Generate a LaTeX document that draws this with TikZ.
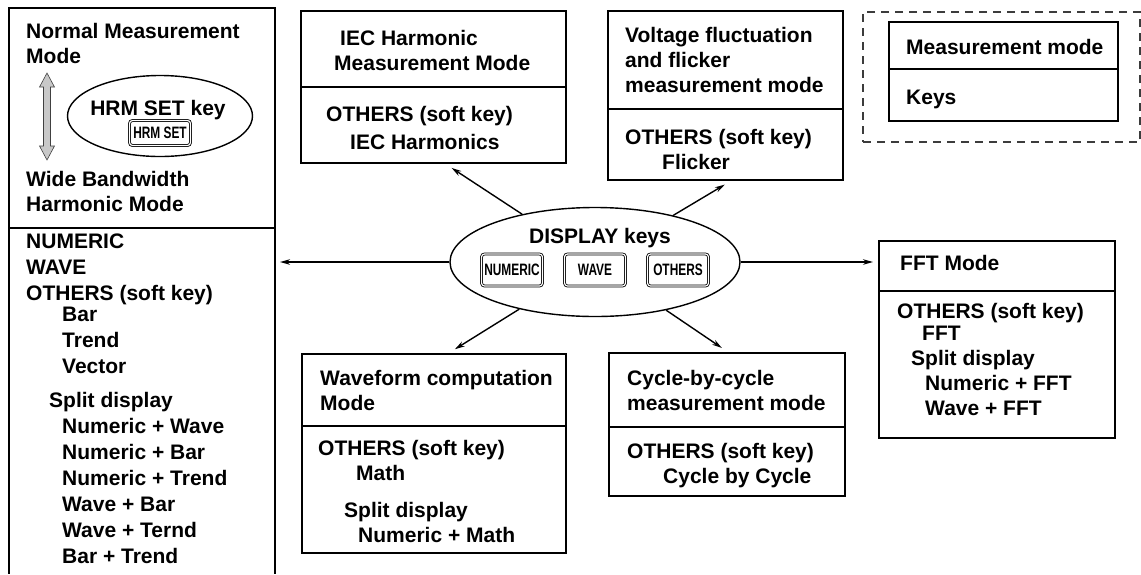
\documentclass[tikz,border=0pt]{standalone}
\usepackage{fontspec}
\setmainfont{Liberation Sans}
\usetikzlibrary{arrows.meta, positioning, calc, shapes.geometric}

\definecolor{arrowgray}{RGB}{200, 200, 200}
\definecolor{dashgray}{RGB}{60, 60, 60}
\newcommand{\keylabel}[1]{\scalebox{0.72}[1]{#1}}

\begin{document}
\begin{tikzpicture}[x=1pt, y=-1pt,
    part/.style={draw, rectangle, line width=1.4pt, inner sep=0pt, outer sep=0pt, anchor=north west},
    txt/.style={anchor=base west, inner sep=0pt, align=left, font=\bfseries\fontsize{21}{25}\selectfont},
    keybox/.style={draw, double, line width=0.8pt, double distance=1.2pt, rounded corners=3pt,
        minimum width=61pt, minimum height=32pt, inner sep=0pt, font=\bfseries\fontsize{16.5}{18}\selectfont},
    arr/.style={line width=1.4pt, -{Stealth[length=10pt, width=5.5pt]}}]
\useasboundingbox (0,0) rectangle (1141,574);
% text nodes are placed at the baseline of their last line

% Left box: harmonic modes and display list
\node[part, minimum width=266pt, minimum height=220pt] (leftTop) at (9,8) {};
\coordinate (leftEnd) at (9,574);
\draw[line width=1.4pt] (leftTop.south west) -- (leftTop.south west |- leftEnd);
\draw[line width=1.4pt] (leftTop.south east) -- (leftTop.south east |- leftEnd);
\node[txt] (normalTxt) at (26,63) {Normal Measurement\\Mode};
\node[txt] (wideTxt) at (26,211) {Wide Bandwidth\\Harmonic Mode};
\filldraw[fill=arrowgray, draw=black!75, line width=0.6pt]
    (47,73) -- (54.5,87) -- (50.5,87) -- (50.5,146) -- (54.5,146) -- (47,160)
    -- (39.5,146) -- (43.5,146) -- (43.5,87) -- (39.5,87) -- cycle;
\node[draw, ellipse, line width=1.4pt, minimum width=185pt, minimum height=81pt, inner sep=0pt] (hrm) at (160,116) {};
\node[anchor=base, inner sep=0pt, font=\bfseries\fontsize{21}{25}\selectfont] (hrmTxt) at (158,115) {HRM SET key};
\node[keybox, minimum height=25pt] (hrmKey) at (160,133) {\keylabel{HRM SET}};
\node[txt, font=\bfseries\fontsize{21}{26}\selectfont] (listTxt) at (26,563) {NUMERIC\\WAVE\\OTHERS (soft key)\\[-5pt]
    \hspace*{36pt}Bar\\\hspace*{36pt}Trend\\\hspace*{36pt}Vector\\[8pt]
    \hspace*{23pt}Split display\\\hspace*{36pt}Numeric + Wave\\\hspace*{36pt}Numeric + Bar\\
    \hspace*{36pt}Numeric + Trend\\\hspace*{36pt}Wave + Bar\\\hspace*{36pt}Wave + Ternd\\
    \hspace*{36pt}Bar + Trend};

% IEC harmonic box
\node[part, minimum width=265pt, minimum height=76pt] (iecTop) at (301,11) {};
\node[part, minimum width=265pt, minimum height=76pt, below=0pt of iecTop] (iecBot) {};
\node[txt] (iecTopTxt) at (334,70) {\hspace*{6pt}IEC Harmonic\\Measurement Mode};
\node[txt] (iecBotTxt) at (326,149) {OTHERS (soft key)\\[3pt]\hspace*{24pt}IEC Harmonics};

% Flicker box
\node[part, minimum width=235pt, minimum height=98pt] (voltTop) at (608,11) {};
\node[part, minimum width=235pt, minimum height=71pt, below=0pt of voltTop] (voltBot) {};
\node[txt] (voltTopTxt) at (625,92) {Voltage fluctuation\\and flicker\\measurement mode};
\node[txt] (voltBotTxt) at (625,169) {OTHERS (soft key)\\\hspace*{37pt}Flicker};

% Legend
\node[part, draw=dashgray, dash pattern=on 8pt off 6pt, minimum width=277pt, minimum height=130pt] (legendFrame) at (863,12) {};
\node[part, minimum width=229pt, minimum height=47pt] (legendTop) at (889,22) {};
\node[part, minimum width=229pt, minimum height=52pt, below=0pt of legendTop] (legendBot) {};
\node[txt] (legendTopTxt) at (906,54) {Measurement mode};
\node[txt] (legendBotTxt) at (906,104) {Keys};

% DISPLAY keys
\node[draw, ellipse, line width=1.4pt, minimum width=290pt, minimum height=109pt, inner sep=0pt] (disp) at (595,262) {};
\node[anchor=base, inner sep=0pt, font=\bfseries\fontsize{21}{25}\selectfont] (dispTxt) at (600,243) {DISPLAY keys};
\node[keybox] (keyNum) at (512,270) {\keylabel{NUMERIC}};
\node[keybox] (keyWave) at (595,270) {\keylabel{WAVE}};
\node[keybox] (keyOth) at (678,270) {\keylabel{OTHERS}};

% FFT box
\node[part, minimum width=236pt, minimum height=50pt] (fftTop) at (879,241) {};
\node[part, minimum width=236pt, minimum height=147pt, below=0pt of fftTop] (fftBot) {};
\node[txt] (fftTopTxt) at (900,270) {FFT Mode};
\node[txt] (fftBotTxt) at (897,415) {OTHERS (soft key)\\[-3pt]\hspace*{25pt}FFT\\
    \hspace*{14pt}Split display\\\hspace*{28pt}Numeric + FFT\\\hspace*{28pt}Wave + FFT};

% Waveform computation box
\node[part, minimum width=264pt, minimum height=72pt] (waveTop) at (302,354) {};
\node[part, minimum width=264pt, minimum height=127pt, below=0pt of waveTop] (waveBot) {};
\node[txt] (waveTopTxt) at (320,410) {Waveform computation\\Mode};
\node[txt] (waveBotTxt) at (318,542) {OTHERS (soft key)\\\hspace*{38pt}Math\\[12pt]
    \hspace*{26pt}Split display\\\hspace*{40pt}Numeric + Math};

% Cycle-by-cycle box
\node[part, minimum width=236pt, minimum height=74pt] (cycTop) at (609,353) {};
\node[part, minimum width=236pt, minimum height=69pt, below=0pt of cycTop] (cycBot) {};
\node[txt] (cycTopTxt) at (627,410) {Cycle-by-cycle\\measurement mode};
\node[txt] (cycBotTxt) at (627,483) {OTHERS (soft key)\\\hspace*{36pt}Cycle by Cycle};

% Arrows
\draw[arr, shorten >=5pt] (disp) -- (disp.west -| leftTop.east);
\draw[arr, shorten >=6pt] (disp) -- (disp.east -| fftTop.west);
\draw[arr, shorten >=9pt] (disp) -- ($(iecBot.south west)!0.54!(iecBot.south east)$);
\draw[arr, shorten >=9pt] (disp) -- ($(voltBot.south west)!0.53!(voltBot.south east)$);
\draw[arr, shorten >=9pt] (disp) -- ($(waveTop.north west)!0.55!(waveTop.north east)$);
\draw[arr, shorten >=9pt] (disp) -- ($(cycTop.north west)!0.51!(cycTop.north east)$);
\end{tikzpicture}
\end{document}
